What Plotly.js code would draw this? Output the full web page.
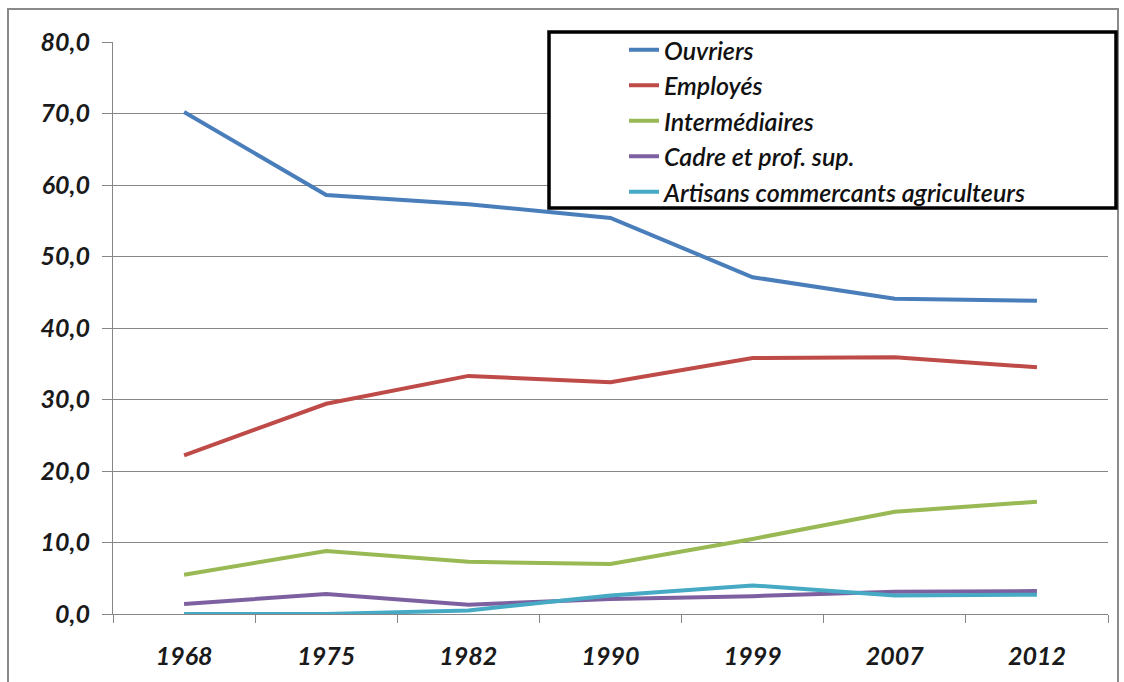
<!DOCTYPE html>
<html>
<head>
<meta charset="utf-8">
<script src="https://cdn.plot.ly/plotly-3.0.1.min.js"></script>
<style>html,body{margin:0;padding:0;background:#fff;}#chart{width:1124px;height:682px;}</style>
</head>
<body>
<div id="chart"></div>
<script>
const years = ['1968', '1975', '1982', '1990', '1999', '2007', '2012'];
const seriesNames = ['Ouvriers', 'Employés', 'Intermédiaires', 'Cadre et prof. sup.', 'Artisans commercants agriculteurs'];
const ouvriers = [70.2, 58.6, 57.3, 55.4, 47.1, 44.1, 43.8];
const employes = [22.2, 29.4, 33.3, 32.4, 35.8, 35.9, 34.5];
const intermediaires = [5.5, 8.8, 7.3, 7.0, 10.5, 14.3, 15.7];
const cadres = [1.4, 2.8, 1.3, 2.1, 2.5, 3.1, 3.2];
const artisans = [0.0, 0.0, 0.5, 2.6, 4.0, 2.6, 2.7];
const colors = ['#4a7ebb', '#be4b48', '#98b954', '#7d60a0', '#46aac5'];
const allSeries = [ouvriers, employes, intermediaires, cadres, artisans];

const FONT = 'Lato, "Liberation Sans", sans-serif';

const traces = allSeries.map((vals, i) => ({
  type: 'scatter',
  mode: 'lines',
  x: years,
  y: vals,
  name: seriesNames[i],
  legendgroup: 'g' + i,
  line: {color: colors[i], width: 4}
}));

const L = 113, R = 16, T = 42, B = 68;
const W = 1124, H = 682;
const pw = W - L - R, ph = H - T - B;
const px = v => (v - L) / pw;
const py = v => (H - B - v) / ph;

const layout = {
  width: W, height: H,
  margin: {l: L, r: R, t: T, b: B, pad: 0},
  paper_bgcolor: '#ffffff',
  plot_bgcolor: '#ffffff',
  showlegend: true,
  separators: ',.',
  xaxis: {
    type: 'category',
    range: [-0.5, 6.5],
    showgrid: false,
    showline: true,
    linecolor: '#868686',
    linewidth: 1,
    ticks: 'outside',
    tickson: 'boundaries',
    ticklen: 8,
    tickcolor: '#868686',
    ticklabelstandoff: 20,
    tickfont: {family: FONT, size: 25, weight: 'bold', style: 'italic', color: '#1a1a1a'},
    zeroline: false,
    fixedrange: true
  },
  yaxis: {
    range: [0, 80],
    dtick: 10,
    tick0: 0,
    tickformat: '.1f',
    showgrid: true,
    gridcolor: '#868686',
    gridwidth: 1,
    showline: true,
    linecolor: '#868686',
    linewidth: 1,
    ticks: 'outside',
    ticklen: 10,
    tickcolor: '#868686',
    ticklabelstandoff: 7,
    tickfont: {family: FONT, size: 25, weight: 'bold', style: 'italic', color: '#1a1a1a'},
    zeroline: false,
    fixedrange: true
  },
  legend: {
    x: px(624),
    y: py(27),
    xanchor: 'left',
    yanchor: 'top',
    bgcolor: 'rgba(0,0,0,0)',
    borderwidth: 0,
    tracegroupgap: 0,
    font: {family: FONT, size: 25, weight: 600, style: 'italic', color: '#111111'}
  },
  shapes: [
    {type: 'rect', xref: 'paper', yref: 'paper', x0: px(8), x1: px(1118), y0: py(9), y1: py(700),
     line: {color: '#8a8a8a', width: 2}, fillcolor: 'rgba(0,0,0,0)', layer: 'below'},
    {type: 'rect', xref: 'paper', yref: 'paper', x0: px(549), x1: px(1116), y0: py(208), y1: py(32),
     line: {color: '#000000', width: 3.5}, fillcolor: '#ffffff', layer: 'above'}
  ]
};

Plotly.newPlot('chart', traces, layout, {displayModeBar: false, staticPlot: true});
</script>
</body>
</html>
